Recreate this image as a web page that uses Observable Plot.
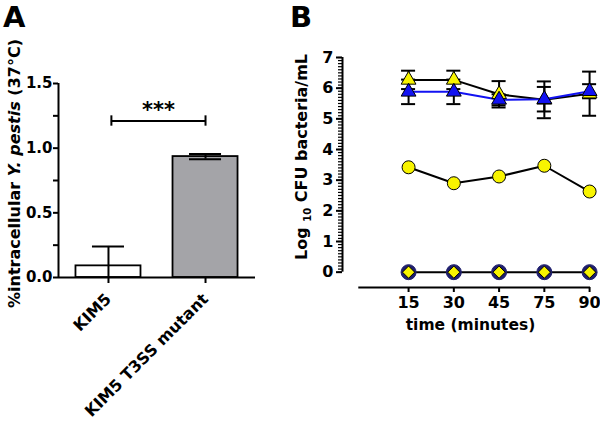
<!DOCTYPE html>
<html><head><meta charset="utf-8">
<script src="https://cdn.jsdelivr.net/npm/d3@7"></script>
<script src="https://cdn.jsdelivr.net/npm/@observablehq/plot@0.6"></script>
<style>
body{margin:0;background:#fff;overflow:hidden;}
#wrap{position:relative;width:600px;height:425px;font-family:"DejaVu Sans",sans-serif;font-weight:bold;color:#000;}
.panel{position:absolute;top:0;}
.letter{position:absolute;top:0;font-family:"DejaVu Sans",sans-serif;font-size:29px;font-weight:bold;line-height:34px;z-index:2;}
</style></head><body>
<div id="wrap">
  <div id="pa" class="panel" style="left:0"></div>
  <div id="pb" class="panel" style="left:285px"></div>
  <div id="la" class="letter" style="left:3px"></div>
  <div id="lb" class="letter" style="left:290px"></div>
</div>
<script>
// ---------- Panel A data ----------
const panelA = "A";
const strains = ["KIM5", "KIM5 T3SS mutant"];
const pctMean = [0.09, 0.935];
const pctErr = [0.15, 0.02];
const yTicksA = [0, 0.5, 1.0, 1.5];
const yMinorTicksA = [0.25, 0.75, 1.25];
const sigLabel = "***";
const sigY = 1.21;
const yLabelA = ["%intracellular ", "Y. pestis", " (37°C)"];

// ---------- Panel B data ----------
const panelB = "B";
const timeLabels = ["15", "30", "45", "75", "90"];
const triYellowMean = [6.27, 6.27, 5.80, 5.62, 5.82];
const triYellowErr  = [0.30, 0.30, 0.43, 0.60, 0.72];
const triBlueMean   = [5.88, 5.88, 5.62, 5.64, 5.90];
const triBlueErr    = [0.40, 0.40, 0.18, 0.40, 0.23];
const circleYellow  = [3.42, 2.90, 3.12, 3.47, 2.63];
const circleNavy    = [0, 0, 0, 0, 0];
const diamondYellow = [0, 0, 0, 0, 0];
const yTicksB = [0, 1, 2, 3, 4, 5, 6, 7];
const yMinorTicksB = d3.range(0, 71).map(i => i / 10);
const xLabelB = "time (minutes)";
const yLabelB = ["Log ", "10", " CFU bacteria/mL"];

// ---------- styles ----------
const barFills = ["#ffffff", "#a4a4a8"];
const yellow = "#f8f400";
const blue = "#1212f2";
const navy = "#20206e";
const font = "DejaVu Sans, sans-serif";

document.getElementById("la").textContent = panelA;
document.getElementById("lb").textContent = panelB;

// ---------- Panel A ----------
const xDomA = [-0.515, 1.515];
const barHalf = 0.335, capHalfA = 0.165;
const rowsA = strains.map((s, i) => ({i, strain: s, mean: pctMean[i], err: pctErr[i], fill: barFills[i]}));
const capsA = rowsA.flatMap(d => [d.mean + d.err, d.mean - d.err].filter(v => v >= 0).map(y => ({i: d.i, y})));

const plotA = Plot.plot({
  width: 285, height: 425,
  marginLeft: 58, marginRight: 30, marginTop: 83, marginBottom: 148,
  x: {type: "linear", domain: xDomA, label: null},
  y: {domain: [0, 1.5], label: null},
  color: {type: "identity"},
  style: {fontFamily: font, fontWeight: "bold", fontSize: "15px", color: "black", background: "white", overflow: "visible"},
  marks: [
    Plot.rectY(rowsA, {x1: d => d.i - barHalf, x2: d => d.i + barHalf, y1: () => 0, y2: d => d.mean, fill: d => d.fill, stroke: "black", strokeWidth: 1.8}),
    Plot.ruleX(rowsA, {x: d => d.i, y1: d => Math.max(0, d.mean - d.err), y2: d => d.mean + d.err, strokeWidth: 2}),
    Plot.ruleY(capsA, {y: d => d.y, x1: d => d.i - capHalfA, x2: d => d.i + capHalfA, strokeWidth: 2}),
    Plot.ruleY([sigY], {y: d => d, x1: () => 0.03, x2: () => 1, strokeWidth: 2}),
    Plot.ruleX([0.03, 1], {x: d => d, y1: () => sigY - 0.04, y2: () => sigY + 0.04, strokeWidth: 2}),
    Plot.text([sigLabel], {x: () => 0.515, y: () => sigY, text: d => d, fontSize: 21, dy: -11}),
    Plot.ruleX([xDomA[0]], {x: d => d, strokeWidth: 2}),
    Plot.ruleY([0], {strokeWidth: 2}),
    Plot.axisY(yMinorTicksA, {tickSize: 5, tickFormat: () => "", strokeWidth: 2}),
    Plot.axisY(yTicksA, {tickSize: 5, tickPadding: 1, tickFormat: d3.format(".1f"), strokeWidth: 2, fontSize: 15}),
    Plot.axisX([0, 1], {tickFormat: i => strains[i], tickRotate: -45, tickSize: 6, tickPadding: 13, strokeWidth: 2, fontSize: 16})
  ]
});
document.getElementById("pa").appendChild(plotA);
{
  const s = d3.select(plotA);
  const t = s.append("text")
    .attr("transform", "translate(20,308) rotate(-90)")
    .attr("text-anchor", "start").style("font-size", "16px").attr("font-weight", "bold").attr("fill", "black");
  t.append("tspan").text(yLabelA[0]);
  t.append("tspan").attr("font-style", "italic").text(yLabelA[1]);
  t.append("tspan").text(yLabelA[2]);
}

// ---------- Panel B ----------
const xDomB = [-0.46, 5.02];
const yDomB = [-0.5, 7];
const xAxisStartB = -0.1;
const capHalfB = 0.155;
const mk = (means, errs) => means.map((m, i) => ({x: i + 1, y: m, lo: m - (errs ? errs[i] : 0), hi: m + (errs ? errs[i] : 0)}));
const sYT = mk(triYellowMean, triYellowErr);
const sBT = mk(triBlueMean, triBlueErr);
const sYC = mk(circleYellow);
const sNC = mk(circleNavy);
const sYD = mk(diamondYellow);
const caps = rows => rows.flatMap(d => [{x: d.x, y: d.lo}, {x: d.x, y: d.hi}]);

const plotB = Plot.plot({
  width: 315, height: 425,
  marginLeft: 57, marginRight: 10, marginTop: 57, marginBottom: 138,
  x: {type: "linear", domain: xDomB, label: null},
  y: {domain: yDomB, label: null},
  style: {fontFamily: font, fontWeight: "bold", fontSize: "16px", color: "black", background: "transparent", overflow: "visible"},
  marks: [
    Plot.ruleX([xDomB[0]], {x: d => d, y1: () => yTicksB[0], y2: () => yTicksB[yTicksB.length - 1], strokeWidth: 2}),
    Plot.ruleY([yDomB[0]], {y: d => d, x1: () => xAxisStartB, x2: () => xDomB[1], strokeWidth: 2}),
    Plot.axisY(yMinorTicksB, {tickSize: 4, tickFormat: () => "", strokeWidth: 1.2}),
    Plot.axisY(yTicksB, {tickSize: 6, tickPadding: 3, strokeWidth: 2, fontSize: 16}),
    Plot.axisX([1, 2, 3, 4, 5], {tickFormat: i => timeLabels[i - 1], tickSize: 5, tickPadding: 4, strokeWidth: 2, fontSize: 16}),
    Plot.text([xLabelB], {frameAnchor: "bottom", text: d => d, dy: 42, dx: 4, fontSize: 15.5}),
    // error bars
    Plot.ruleX(sYT, {x: "x", y1: "lo", y2: "hi", strokeWidth: 2}),
    Plot.ruleY(caps(sYT), {y: "y", x1: d => d.x - capHalfB, x2: d => d.x + capHalfB, strokeWidth: 2}),
    Plot.ruleX(sBT, {x: "x", y1: "lo", y2: "hi", strokeWidth: 2}),
    Plot.ruleY(caps(sBT), {y: "y", x1: d => d.x - capHalfB, x2: d => d.x + capHalfB, strokeWidth: 2}),
    // lines and symbols
    Plot.line(sYT, {x: "x", y: "y", stroke: "black", strokeWidth: 2}),
    Plot.line(sBT, {x: "x", y: "y", stroke: blue, strokeWidth: 2}),
    Plot.dot(sYT, {x: "x", y: "y", symbol: "triangle", r: 5.5, fill: yellow, stroke: "black", strokeWidth: 1}),
    Plot.dot(sBT, {x: "x", y: "y", symbol: "triangle", r: 5.5, fill: blue, stroke: "black", strokeWidth: 1}),
    Plot.line(sYC, {x: "x", y: "y", stroke: "black", strokeWidth: 2}),
    Plot.dot(sYC, {x: "x", y: "y", r: 6.5, fill: yellow, stroke: "black", strokeWidth: 1}),
    Plot.line(sNC, {x: "x", y: "y", stroke: "black", strokeWidth: 2}),
    Plot.dot(sNC, {x: "x", y: "y", r: 7.5, fill: navy, stroke: navy, strokeWidth: 1}),
    Plot.dot(sYD, {x: "x", y: "y", symbol: "diamond2", r: 5.5, fill: yellow, stroke: "black", strokeWidth: 1})
  ]
});
document.getElementById("pb").appendChild(plotB);
{
  const s = d3.select(plotB);
  const t = s.append("text")
    .attr("transform", "translate(22,260) rotate(-90)")
    .attr("text-anchor", "start").style("font-size", "16px").attr("font-weight", "bold").attr("fill", "black");
  t.append("tspan").text(yLabelB[0]);
  t.append("tspan").style("font-size", "10px").attr("dy", 4).text(yLabelB[1]);
  t.append("tspan").attr("dy", -4).text(yLabelB[2]);
}
</script>
</body></html>
